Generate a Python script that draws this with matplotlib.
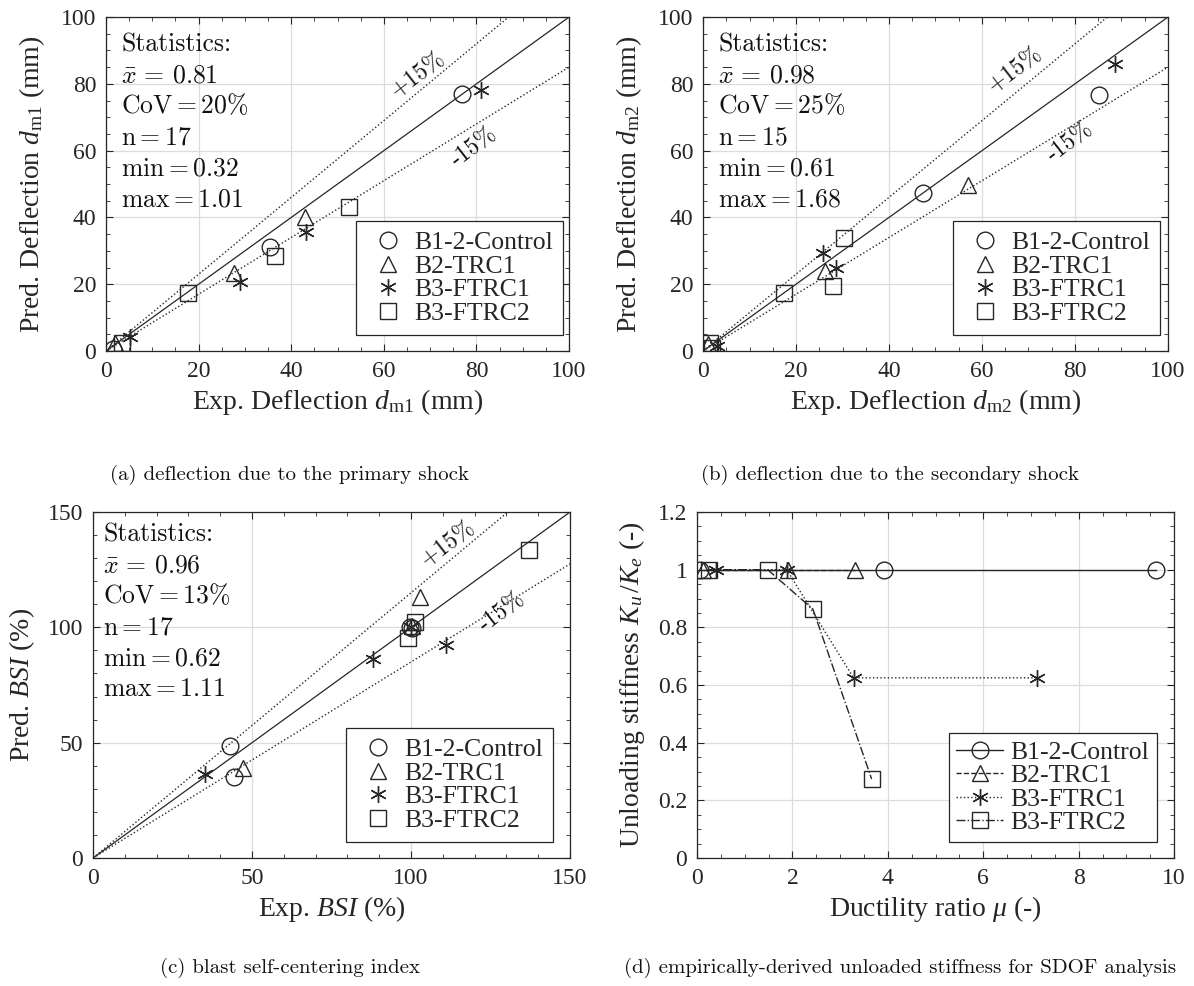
import matplotlib.pyplot as plt
import numpy as np
from matplotlib.lines import Line2D
from matplotlib.ticker import MultipleLocator

plt.rcParams["font.family"] = "Liberation Serif"
plt.rcParams["mathtext.fontset"] = "custom"
plt.rcParams["mathtext.rm"] = "Liberation Serif"
plt.rcParams["mathtext.it"] = "Liberation Serif:italic"
plt.rcParams["mathtext.bf"] = "Liberation Serif:bold"

INK = "#262626"

names = ["B1-2-Control", "B2-TRC1", "B3-FTRC1", "B3-FTRC2"]
markers = ["o", "^", (6, 2, 0), "s"]

# (a) deflection, primary shock (mm)
dm1_exp = [[1.6, 35.4, 76.8], [2.0, 27.7, 43.0], [5.2, 28.9, 43.2, 81.0], [3.4, 17.6, 36.5, 52.4]]
dm1_pred = [[0.5, 31.2, 76.9], [2.4, 23.5, 40.2], [4.3, 20.7, 35.7, 78.3], [2.5, 17.5, 28.4, 43.0]]
stats_a = ["0.81", "20", "17", "0.32", "1.01"]

# (b) deflection, secondary shock (mm)
dm2_exp = [[47.4, 85.2], [1.1, 26.2, 56.9], [2.9, 25.7, 28.7, 88.6], [1.5, 2.0, 17.5, 28.0, 30.4]]
dm2_pred = [[47.4, 76.6], [2.0, 24.0, 49.8], [1.5, 29.4, 24.8, 85.9], [2.4, 1.0, 17.5, 19.5, 33.7]]
stats_b = ["0.98", "25", "15", "0.61", "1.68"]

# (c) blast self-centering index (%)
bsi_exp = [[43.1, 44.3, 99.8, 100.3], [47.3, 102.8, 100.2], [35.2, 87.9, 111.0, 100.0], [99.2, 101.3, 137.1]]
bsi_pred = [[48.7, 35.2, 100.3, 99.8], [38.9, 113.3, 100.5], [36.3, 86.4, 92.3, 100.2], [95.2, 102.4, 133.5]]
stats_c = ["0.96", "13", "17", "0.62", "1.11"]

# (d) unloading stiffness ratio vs ductility
mu = [[0.06, 3.91, 9.62], [0.12, 1.91, 3.31], [0.40, 1.88, 3.28, 7.12], [0.24, 1.48, 2.43, 3.66]]
k_ratio = [[1.0, 1.0, 1.0], [1.0, 1.0, 1.0], [1.0, 1.0, 0.625, 0.625], [1.0, 1.0, 0.863, 0.274]]
d_styles = ["-", "--", ":", "-."]

captions = [
    "(a) deflection due to the primary shock",
    "(b) deflection due to the secondary shock",
    "(c) blast self-centering index",
    "(d) empirically-derived unloaded stiffness for SDOF analysis",
]

fig = plt.figure(figsize=(11.94, 9.86), dpi=100)
ax_a = fig.add_axes([0.0888, 0.6440, 0.3878, 0.3387])
ax_b = fig.add_axes([0.5888, 0.6440, 0.3894, 0.3387])
ax_c = fig.add_axes([0.0779, 0.1298, 0.3995, 0.3509])
ax_d = fig.add_axes([0.5838, 0.1298, 0.3995, 0.3509])


def style_axes(ax, lim, major, minor):
    ax.set_xlim(lim[0])
    ax.set_ylim(lim[1])
    ax.xaxis.set_major_locator(MultipleLocator(major[0]))
    ax.yaxis.set_major_locator(MultipleLocator(major[1]))
    ax.xaxis.set_minor_locator(MultipleLocator(minor[0]))
    ax.yaxis.set_minor_locator(MultipleLocator(minor[1]))
    ax.grid(True, which="major", color="#dcdcdc", lw=0.9)
    ax.set_axisbelow(True)
    for s in ax.spines.values():
        s.set_color(INK)
        s.set_linewidth(0.9)
    ax.tick_params(which="both", direction="in", top=True, right=True, color=INK,
                   labelcolor=INK, labelsize=17, pad=7)
    ax.tick_params(which="major", length=5)
    ax.tick_params(which="minor", length=3)


def legend_box(ax, handles, anchor, hl, tp, bp):
    leg = ax.legend(handles=handles, loc="lower right", bbox_to_anchor=anchor,
                    fontsize=18.5, frameon=True, fancybox=False, framealpha=1,
                    handlelength=hl, handletextpad=tp, labelspacing=0.02,
                    borderpad=bp, borderaxespad=0)
    leg.get_frame().set_edgecolor(INK)
    leg.get_frame().set_linewidth(0.9)
    for t in leg.get_texts():
        t.set_color(INK)


def stats_block(ax, vals, left_px, top_px):
    lines = ["Statistics:",
             r"$\bar{x}\,=\,%s$" % vals[0],
             r"$\mathrm{CoV}=%s\%%$" % vals[1],
             r"$\mathrm{n}=%s$" % vals[2],
             r"$\mathrm{min}=%s$" % vals[3],
             r"$\mathrm{max}=%s$" % vals[4]]
    for i, s in enumerate(lines):
        y_px = top_px + 18 + i * 31
        kw = dict(family="cmr10") if i == 0 else dict(math_fontfamily="cm")
        ax.annotate(s, xy=(0, 1), xycoords="axes fraction",
                    xytext=(left_px * 0.72, -y_px * 0.72), textcoords="offset points",
                    ha="left", va="baseline", fontsize=18.5, color="#111111", **kw)


def compare_panel(ax, xs, ys, vmax, stats, pos_plus, pos_minus, stat_off):
    line = np.array([0, vmax])
    ax.plot(line, line, "-", color=INK, lw=0.9, zorder=2)
    ax.plot(line, 1.15 * line, ":", color=INK, lw=1.0, zorder=2)
    ax.plot(line, 0.85 * line, ":", color=INK, lw=1.0, zorder=2)
    for x, y, m in zip(xs, ys, markers):
        ax.plot(x, y, linestyle="none", marker=m, ms=12, mfc="none", mec=INK,
                mew=1.0, zorder=3)
    ax.text(*pos_plus, "+15%", family="cmr10", fontsize=17, rotation=38,
            ha="center", va="center", color="#111111")
    ax.text(*pos_minus, "-15%", family="cmr10", fontsize=17, rotation=38,
            ha="center", va="center", color="#111111")
    stats_block(ax, stats, *stat_off)
    handles = [Line2D([], [], linestyle="none", marker=m, ms=12, mfc="none",
                      mec=INK, mew=1.0, label=n) for m, n in zip(markers, names)]
    return handles


for ax, lim in [(ax_a, 100), (ax_b, 100)]:
    style_axes(ax, ((0, lim), (0, lim)), (20, 20), (5, 5))

h = compare_panel(ax_a, dm1_exp, dm1_pred, 100, stats_a, (67.5, 82.6), (79.5, 61.2), (15, 16))
legend_box(ax_a, h, (0.987, 0.048), 1.7, 0.15, 0.4)
ax_a.set_xlabel(r"Exp. Deflection $d_{\mathrm{m1}}$ (mm)", fontsize=20, color=INK, labelpad=4)
ax_a.set_ylabel(r"Pred. Deflection $d_{\mathrm{m1}}$ (mm)", fontsize=20, color=INK, labelpad=10)

h = compare_panel(ax_b, dm2_exp, dm2_pred, 100, stats_b, (67.1, 84.1), (78.9, 62.7), (15, 16))
legend_box(ax_b, h, (0.983, 0.048), 1.7, 0.15, 0.4)
ax_b.set_xlabel(r"Exp. Deflection $d_{\mathrm{m2}}$ (mm)", fontsize=20, color=INK, labelpad=4)
ax_b.set_ylabel(r"Pred. Deflection $d_{\mathrm{m2}}$ (mm)", fontsize=20, color=INK, labelpad=10)

style_axes(ax_c, ((0, 150), (0, 150)), (50, 50), (10, 10))
h = compare_panel(ax_c, bsi_exp, bsi_pred, 150, stats_c, (111.7, 136.4), (128.5, 106.8), (10, 11))
legend_box(ax_c, h, (0.964, 0.046), 1.7, 0.15, 0.4)
ax_c.set_xlabel(r"Exp. $BSI$ (%)", fontsize=20, color=INK, labelpad=4)
ax_c.set_ylabel(r"Pred. $BSI$ (%)", fontsize=20, color=INK, labelpad=8)

style_axes(ax_d, ((0, 10), (0, 1.2)), (2, 0.2), (0.5, 0.05))
ax_d.yaxis.set_major_formatter(plt.FuncFormatter(lambda v, p: "%g" % round(v, 2)))
handles = []
for x, y, m, ls, n in zip(mu, k_ratio, markers, d_styles, names):
    ln, = ax_d.plot(x, y, linestyle=ls, marker=m, ms=12, mfc="none", mec=INK,
                    mew=1.0, color=INK, lw=1.0, label=n)
    handles.append(ln)
legend_box(ax_d, handles, (0.964, 0.046), 1.8, 0.3, 0.3)
ax_d.set_xlabel(r"Ductility ratio $\mu$ (-)", fontsize=20, color=INK, labelpad=4)
ax_d.set_ylabel(r"Unloading stiffness $K_u\,/K_e$ (-)", fontsize=20, color=INK, labelpad=8)

for (cx, cy), cap in zip([(290, 475), (890, 475), (290, 968), (900, 968)], captions):
    fig.text(cx / 1194, 1 - cy / 986, cap, family="cmr10", fontsize=15,
             ha="center", va="center", color="#111111")

fig.savefig("out.png", dpi=100)
